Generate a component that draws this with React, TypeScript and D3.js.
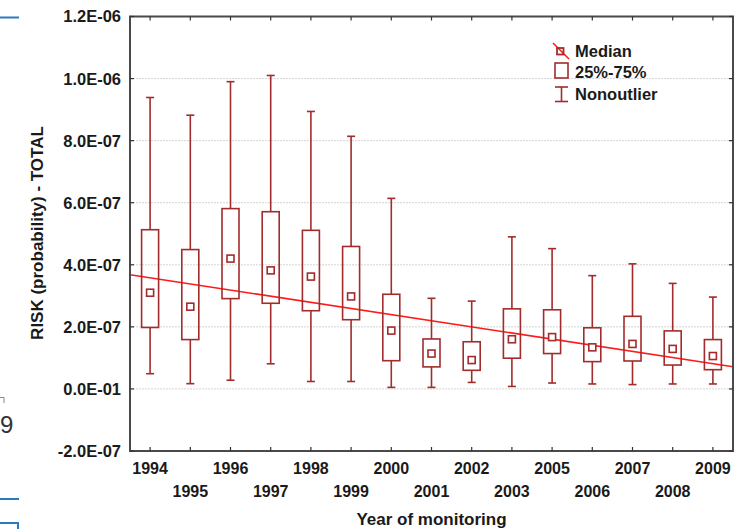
import React from "react";
import * as d3 from "d3";

// ---- data (units: probability) ----
const years = ["1994","1995","1996","1997","1998","1999","2000","2001","2002","2003","2005","2006","2007","2008","2009"];
const nonoutlierMax = [9.39,8.82,9.90,10.10,8.94,8.14,6.14,2.92,2.83,4.90,4.52,3.65,4.03,3.40,2.96].map(v => v * 1e-7);
const q3 = [5.13,4.49,5.81,5.71,5.11,4.59,3.05,1.61,1.52,2.58,2.55,1.97,2.34,1.87,1.59].map(v => v * 1e-7);
const medians = [3.10,2.65,4.20,3.82,3.62,2.98,1.88,1.14,0.93,1.60,1.67,1.34,1.45,1.29,1.06].map(v => v * 1e-7);
const q1 = [1.98,1.59,2.91,2.76,2.52,2.23,0.91,0.71,0.60,0.99,1.14,0.88,0.90,0.77,0.62].map(v => v * 1e-7);
const nonoutlierMin = [0.49,0.17,0.28,0.81,0.24,0.24,0.05,0.05,0.21,0.08,0.19,0.16,0.14,0.16,0.16].map(v => v * 1e-7);
const trendFirst = 3.58e-7; // fitted value at first year
const trendLast = 0.815e-7; // fitted value at last year
const yTickValues = [-2e-7, 0, 2e-7, 4e-7, 6e-7, 8e-7, 1e-6, 1.2e-6];
const yTickLabels = ["-2.0E-07","0.0E-01","2.0E-07","4.0E-07","6.0E-07","8.0E-07","1.0E-06","1.2E-06"];
const legendLabels = ["Median", "25%-75%", "Nonoutlier"];
const xTitle = "Year of monitoring";
const yTitle = "RISK (probability) - TOTAL";

const W = 735, H = 529;
const left = 130, right = 733, top = 16.5, bottom = 451;
const FONT = "'Liberation Sans', Arial, sans-serif";
const BOX = "#a22c2c";
const TXT = "#1a1a1a";

export default function App() {
  const x = d3.scaleBand<string>().domain(years).range([left, right]).padding(0);
  const bw = x.bandwidth();
  const cx = (i: number) => (x(years[i]) as number) + bw / 2;
  const y = d3.scaleLinear().domain([-2e-7, 1.2e-6]).range([bottom, top]);

  const n = years.length;
  const slope = (trendLast - trendFirst) / (n - 1);
  const idxScale = d3.scaleLinear().domain([0, n - 1]).range([cx(0), cx(n - 1)]);
  const iL = idxScale.invert(left), iR = idxScale.invert(right);
  const trendLine = d3.line<number>()
    .x(i => idxScale(i))
    .y(i => y(trendFirst + slope * i));

  const boxW = 17, capW = 8, medS = 7;
  const frameTop = y(1.2e-6), frameBottom = y(-2e-7);

  return (
    <svg width={W} height={H} style={{ position: "absolute", left: 0, top: 0, background: "#fff" }}
      fontFamily={FONT}>
      {/* page artifacts at left edge */}
      <line x1={0} x2={19} y1={17.5} y2={17.5} stroke="#2b7bbf" strokeWidth={2} />
      <path d="M0,397.5 H4 V403" fill="none" stroke="#666" strokeWidth={0.8} />
      <text x={0} y={433} fontSize={24} fill="#333">9</text>
      <line x1={0} x2={19} y1={499} y2={499} stroke="#2b7bbf" strokeWidth={2} />
      <path d="M0,523 H18 V530" fill="none" stroke="#2b7bbf" strokeWidth={2} />

      {/* gridlines */}
      {yTickValues.filter(v => v > -2e-7 && v < 1.2e-6).map((v, i) => (
        <line key={"g" + i} x1={left} x2={right} y1={y(v)} y2={y(v)} stroke="#d4d4d4" strokeWidth={1} strokeDasharray="2,1" />
      ))}

      {/* trend line */}
      <path d={trendLine([iL, iR]) as string} stroke="#ff1a1a" strokeWidth={1.6} fill="none" />

      {/* boxes */}
      {years.map((yr, i) => {
        const c = cx(i);
        return (
          <g key={yr} stroke={BOX} strokeWidth={1.6} fill="none">
            <line x1={c} x2={c} y1={y(nonoutlierMax[i])} y2={y(q3[i])} />
            <line x1={c} x2={c} y1={y(q1[i])} y2={y(nonoutlierMin[i])} />
            <line x1={c - capW / 2} x2={c + capW / 2} y1={y(nonoutlierMax[i])} y2={y(nonoutlierMax[i])} />
            <line x1={c - capW / 2} x2={c + capW / 2} y1={y(nonoutlierMin[i])} y2={y(nonoutlierMin[i])} />
            <rect x={c - boxW / 2} y={y(q3[i])} width={boxW} height={y(q1[i]) - y(q3[i])} fill="none" />
            <rect x={c - medS / 2} y={y(medians[i]) - medS / 2} width={medS} height={medS} fill="#fff" />
          </g>
        );
      })}

      {/* frame */}
      <rect x={left} y={frameTop} width={right - left} height={frameBottom - frameTop} fill="none" stroke="#4a4a4a" strokeWidth={2} />

      {years.map((yr, i) => (
        <g key={"xt" + yr} stroke="#333" strokeWidth={1.2}>
          <line x1={cx(i)} x2={cx(i)} y1={frameTop} y2={frameTop + 4} />
          <line x1={cx(i)} x2={cx(i)} y1={frameBottom} y2={frameBottom - 4} />
        </g>
      ))}
      {yTickValues.map((v, i) => (
        <g key={"yt" + i} stroke="#333" strokeWidth={1.2}>
          <line x1={left} x2={left + 4} y1={y(v)} y2={y(v)} />
          <line x1={right} x2={right - 4} y1={y(v)} y2={y(v)} />
        </g>
      ))}

      {yTickValues.map((v, i) => (
        <text key={"yl" + i} x={121} y={y(v)} dy="0.36em" textAnchor="end" fontSize={16.5} fontWeight="bold" fill={TXT}>
          {yTickLabels[i]}
        </text>
      ))}

      {years.map((yr, i) => (
        <text key={"xl" + yr} x={cx(i)} y={i % 2 === 0 ? 474 : 497} textAnchor="middle" fontSize={16} fontWeight="bold" fill={TXT}>
          {yr}
        </text>
      ))}

      <text x={(left + right) / 2} y={525} textAnchor="middle" fontSize={17} fontWeight="bold" fill={TXT}>{xTitle}</text>
      <text transform={`translate(43,233) rotate(-90)`} textAnchor="middle" fontSize={17} fontWeight="bold" fill={TXT}>{yTitle}</text>

      {/* legend */}
      <g>
        <line x1={553} y1={43} x2={569} y2={59} stroke="#ff1a1a" strokeWidth={1.6} />
        <rect x={557} y={48} width={6.5} height={6.5} fill="none" stroke={BOX} strokeWidth={1.8} />
        <text x={575} y={57} fontSize={16.5} fontWeight="bold" fill={TXT}>{legendLabels[0]}</text>
        <rect x={555} y={63} width={13} height={15} fill="none" stroke={BOX} strokeWidth={1.6} />
        <text x={575} y={78} fontSize={16.5} fontWeight="bold" fill={TXT}>{legendLabels[1]}</text>
        <g stroke={BOX} strokeWidth={1.6}>
          <line x1={561.5} x2={561.5} y1={87} y2={101.5} />
          <line x1={555} x2={568} y1={87} y2={87} />
          <line x1={555} x2={568} y1={101.5} y2={101.5} />
        </g>
        <text x={575} y={100} fontSize={16.5} fontWeight="bold" fill={TXT}>{legendLabels[2]}</text>
      </g>
    </svg>
  );
}
